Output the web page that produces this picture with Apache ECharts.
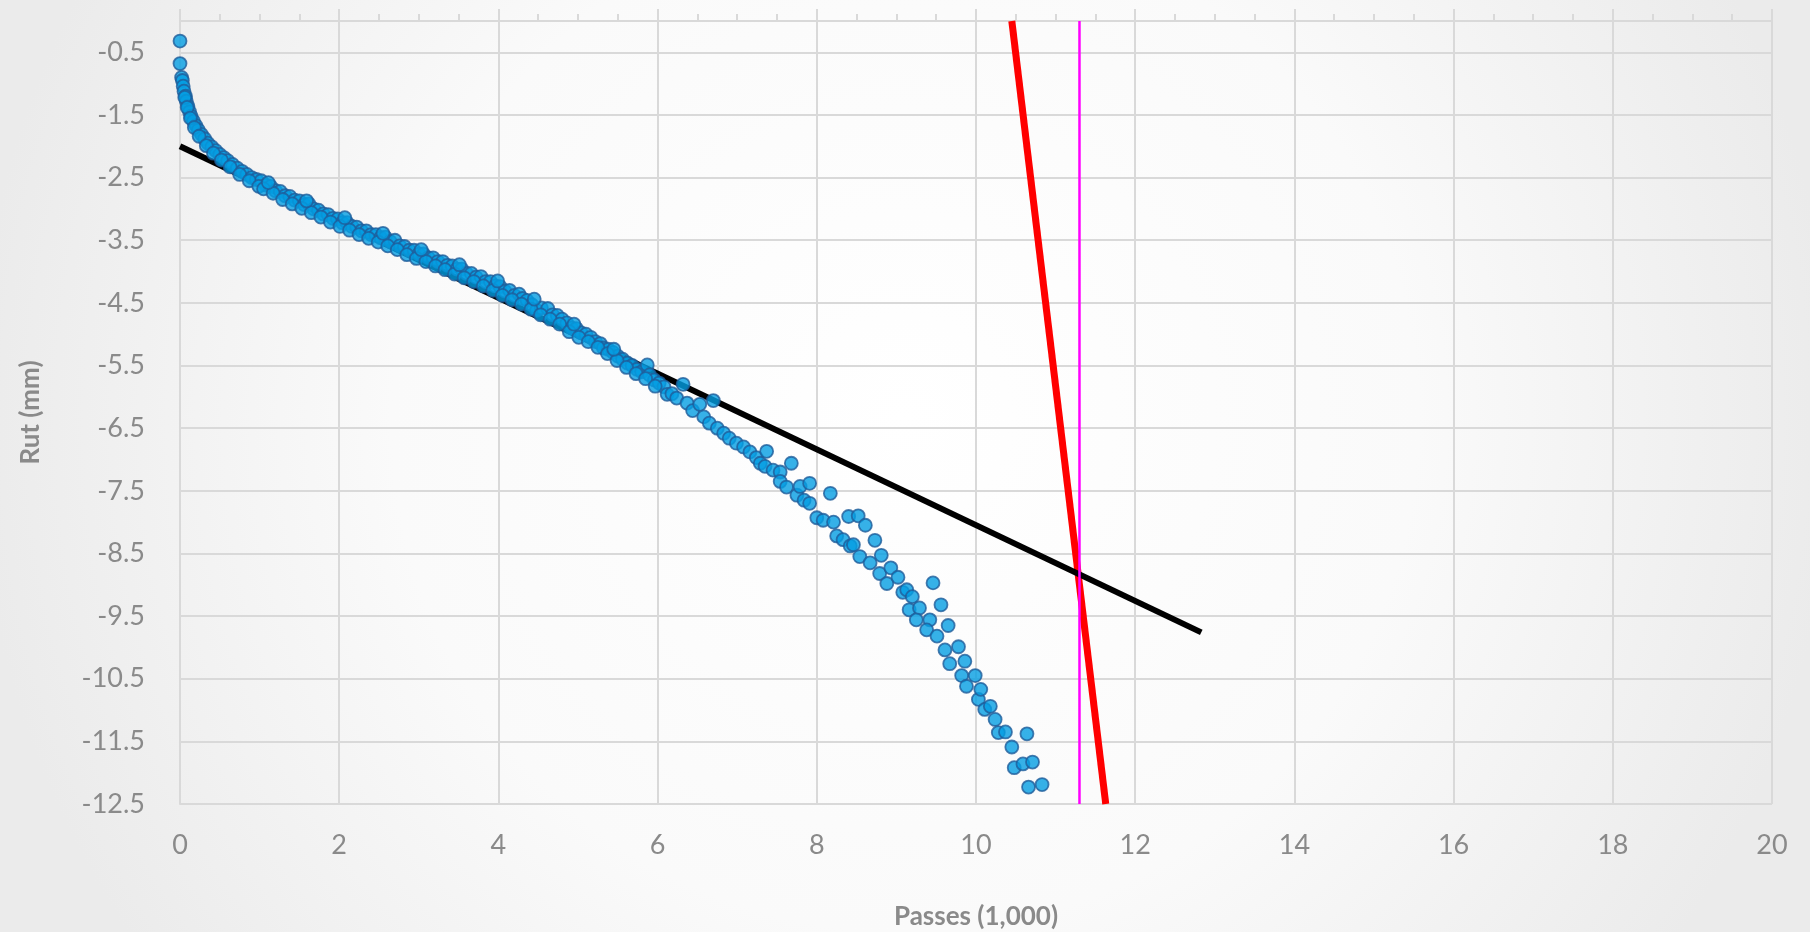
<!DOCTYPE html>
<html>
<head>
<meta charset="utf-8">
<script src="https://cdn.jsdelivr.net/npm/echarts@6/dist/echarts.min.js"></script>
<style>
  html, body { margin: 0; padding: 0; width: 1810px; height: 932px; overflow: hidden; }
  #chart { width: 1810px; height: 932px; }
</style>
</head>
<body>
<div id="chart"></div>
<script>
// ---- Data (passes in thousands, rut in mm) ----
const passes = [
  0, 0, 0.02, 0.03, 0.04, 0.05, 0.07, 0.08, 0.10, 0.12, 0.14, 0.17, 0.20, 0.23, 0.27, 0.31, 0.35, 0.40, 0.45, 0.50,
  0.55, 0.60, 0.66, 0.72, 0.78, 0.84, 0.90, 0.96,
  1.02, 1.08, 1.14, 1.20, 1.26, 1.32, 1.38, 1.44, 1.50, 1.56, 1.62, 1.68, 1.74, 1.80, 1.86, 1.92, 1.98,
  2.04, 2.10, 2.16, 2.22, 2.28, 2.34, 2.40, 2.46, 2.52, 2.58, 2.64, 2.70, 2.76, 2.82, 2.88, 2.94,
  3.00, 3.06, 3.12, 3.18, 3.24, 3.30, 3.36, 3.42, 3.48, 3.54, 3.60, 3.66, 3.72, 3.78, 3.84, 3.90, 3.96, 4.02,
  4.08, 4.14, 4.20, 4.26, 4.30, 4.36, 4.42, 4.48, 4.54, 4.62, 4.68, 4.74, 4.80, 4.86, 4.92, 4.98,
  5.04, 5.10, 5.16, 5.22, 5.28, 5.32, 5.38, 5.44, 5.50, 5.56, 5.62, 5.68, 5.74, 5.80, 5.87, 5.90, 5.96,
  6.02, 6.08, 6.12, 6.18, 6.24, 6.32, 6.37, 6.44, 6.53, 6.58, 6.65, 6.70, 6.75, 6.83, 6.90, 6.99,
  7.08, 7.16, 7.24, 7.29, 7.35, 7.37, 7.45, 7.54, 7.54, 7.62, 7.68, 7.75, 7.79, 7.84, 7.91, 7.91,
  8.00, 8.08, 8.17, 8.21, 8.25, 8.33, 8.40, 8.42, 8.46, 8.52, 8.54, 8.61, 8.67, 8.73, 8.79, 8.81, 8.88, 8.93,
  9.02, 9.08, 9.13, 9.20, 9.16, 9.29, 9.25, 9.42, 9.38, 9.46, 9.51, 9.56, 9.61, 9.65, 9.67, 9.78, 9.82, 9.86, 9.88, 9.99,
  10.03, 10.06, 10.11, 10.18, 10.24, 10.28, 10.37, 10.45, 10.48, 10.59, 10.64, 10.66, 10.71, 10.83,
  0.06, 0.09, 0.13, 0.18, 0.24, 0.33, 0.42, 0.52, 0.63, 0.75, 0.87, 0.99,
  1.05, 1.17, 1.29, 1.41, 1.53, 1.65, 1.77, 1.89, 2.01,
  2.13, 2.25, 2.37, 2.49, 2.61, 2.73, 2.85, 2.97,
  3.09, 3.21, 3.33, 3.45, 3.57, 3.69, 3.81, 3.93,
  4.05, 4.17, 4.29, 4.41, 4.53, 4.65, 4.77, 4.89,
  5.01, 5.13, 5.25, 5.37, 5.49, 5.61, 5.73, 5.85, 5.97,
  1.11, 1.59, 2.07, 2.55, 3.03, 3.51, 3.99, 4.45, 4.95, 5.45
];
const rut = [
  -0.32, -0.68, -0.90, -0.95, -1.04, -1.12, -1.20, -1.28, -1.36, -1.45, -1.52, -1.60, -1.67, -1.74, -1.81, -1.88, -1.95, -2.01, -2.07, -2.13,
  -2.18, -2.23, -2.29, -2.35, -2.40, -2.45, -2.50, -2.53,
  -2.55, -2.62, -2.64, -2.71, -2.72, -2.79, -2.80, -2.86, -2.87, -2.93, -2.92, -3.00, -3.02, -3.08, -3.09, -3.15, -3.16,
  -3.22, -3.22, -3.28, -3.29, -3.35, -3.35, -3.41, -3.41, -3.46, -3.45, -3.52, -3.50, -3.59, -3.60, -3.66, -3.66,
  -3.72, -3.72, -3.78, -3.78, -3.84, -3.84, -3.90, -3.91, -3.96, -3.96, -4.03, -4.03, -4.09, -4.08, -4.16, -4.16, -4.23, -4.24,
  -4.31, -4.30, -4.38, -4.36, -4.43, -4.46, -4.53, -4.62, -4.58, -4.59, -4.69, -4.70, -4.76, -4.82, -4.90, -4.91,
  -4.98, -5.00, -5.05, -5.12, -5.15, -5.22, -5.24, -5.29, -5.35, -5.40, -5.46, -5.50, -5.56, -5.60, -5.49, -5.65, -5.73,
  -5.78, -5.84, -5.96, -5.95, -6.02, -5.80, -6.10, -6.22, -6.12, -6.32, -6.42, -6.06, -6.50, -6.58, -6.66, -6.74,
  -6.80, -6.88, -6.97, -7.06, -7.11, -6.87, -7.17, -7.20, -7.35, -7.44, -7.06, -7.57, -7.43, -7.65, -7.38, -7.70,
  -7.93, -7.97, -7.54, -8.00, -8.22, -8.28, -7.91, -8.38, -8.36, -7.90, -8.55, -8.05, -8.65, -8.29, -8.82, -8.53, -8.98, -8.73,
  -8.88, -9.12, -9.08, -9.19, -9.40, -9.37, -9.56, -9.56, -9.72, -8.97, -9.82, -9.32, -10.04, -9.65, -10.26, -9.99, -10.45, -10.22, -10.62, -10.45,
  -10.83, -10.67, -10.99, -10.94, -11.15, -11.36, -11.35, -11.59, -11.92, -11.86, -11.38, -12.23, -11.83, -12.19,
  -1.22, -1.38, -1.55, -1.70, -1.84, -1.99, -2.11, -2.22, -2.33, -2.45, -2.55, -2.64,
  -2.68, -2.75, -2.85, -2.92, -2.99, -3.06, -3.13, -3.21, -3.28,
  -3.34, -3.41, -3.47, -3.53, -3.59, -3.65, -3.73, -3.79,
  -3.84, -3.91, -3.97, -4.04, -4.10, -4.16, -4.23, -4.30,
  -4.38, -4.45, -4.52, -4.60, -4.69, -4.76, -4.84, -4.96,
  -5.05, -5.12, -5.21, -5.31, -5.42, -5.53, -5.63, -5.71, -5.83,
  -2.58, -2.87, -3.14, -3.39, -3.65, -3.89, -4.15, -4.44, -4.84, -5.24
];

// Straight lines (endpoints)
const trendX = [0, 12.83];
const trendY = [-2.0, -9.76];
const failX = [10.45, 11.63];
const failY = [0, -12.5];
const limitX = [11.3, 11.3];
const limitY = [0, -12.5];

// Axis ticks
const xTicks = [0, 2, 4, 6, 8, 10, 12, 14, 16, 18, 20];
const yTicks = [-0.5, -1.5, -2.5, -3.5, -4.5, -5.5, -6.5, -7.5, -8.5, -9.5, -10.5, -11.5, -12.5];

const zip = (xs, ys) => xs.map((x, i) => [x, ys[i]]);

const chart = echarts.init(document.getElementById('chart'), null, { renderer: 'canvas' });
const gridColor = '#d9d9d9';
const textColor = '#8a8a8a';
const font = 'Lato, "Open Sans", sans-serif';

chart.setOption({
  animation: false,
  backgroundColor: {
    type: 'radial', x: 0.5, y: 0.45, r: 1.0,
    colorStops: [{ offset: 0, color: '#ffffff' }, { offset: 0.55, color: '#fafafa' }, { offset: 1, color: '#ebebeb' }]
  },
  grid: { left: 180, right: 38, top: 21, bottom: 128, containLabel: false, outerBoundsMode: 'none' },
  xAxis: [
    {
      type: 'value', min: xTicks[0], max: xTicks[xTicks.length - 1], interval: 2, position: 'bottom',
      axisLine: { show: false, onZero: false },
      axisTick: { show: false },
      splitLine: { show: true, lineStyle: { color: gridColor, width: 2 } },
      axisLabel: { fontSize: 27, color: textColor, fontFamily: font, margin: 28 },
      name: 'Passes (1,000)', nameLocation: 'middle', nameGap: 100,
      nameTextStyle: { fontSize: 26, fontWeight: 'bold', color: textColor, fontFamily: font }
    },
    {
      type: 'value', min: xTicks[0], max: xTicks[xTicks.length - 1], interval: 2, position: 'top',
      axisLine: { show: true, onZero: false, lineStyle: { color: gridColor, width: 2 } },
      axisTick: { show: true, length: 12, lineStyle: { color: gridColor, width: 2 } },
      minorTick: { show: true, splitNumber: 4, length: 7, lineStyle: { color: gridColor, width: 2 } },
      axisLabel: { show: false },
      splitLine: { show: false }
    }
  ],
  yAxis: {
    type: 'value', min: -12.5, max: 0,
    axisLine: { show: true, onZero: false, lineStyle: { color: gridColor, width: 2 } },
    axisTick: { show: false, customValues: yTicks },
    axisLabel: { customValues: yTicks, fontSize: 27, color: textColor, fontFamily: font, margin: 35 },
    splitLine: { show: true, lineStyle: { color: gridColor, width: 2 } },
    name: 'Rut (mm)', nameLocation: 'middle', nameGap: 136,
    nameTextStyle: { fontSize: 26, fontWeight: 'bold', color: textColor, fontFamily: font }
  },
  series: [
    {
      type: 'line', data: zip(failX, failY), xAxisIndex: 0, symbol: 'none', clip: true, z: 2,
      lineStyle: { color: '#ff0000', width: 7 }
    },
    {
      type: 'line', data: zip(trendX, trendY), xAxisIndex: 0, symbol: 'none', clip: true, z: 3,
      lineStyle: { color: '#000000', width: 6 }
    },
    {
      type: 'scatter', data: zip(passes, rut), xAxisIndex: 0, symbol: 'circle', symbolSize: 13, z: 4,
      itemStyle: { color: '#049ee2', borderColor: '#1f5d9a', borderWidth: 1.8 }
    },
    {
      type: 'line', data: zip(limitX, limitY), xAxisIndex: 0, symbol: 'none', clip: true, z: 5,
      lineStyle: { color: '#ff00ff', width: 2.5 }
    }
  ]
});
</script>
</body>
</html>
